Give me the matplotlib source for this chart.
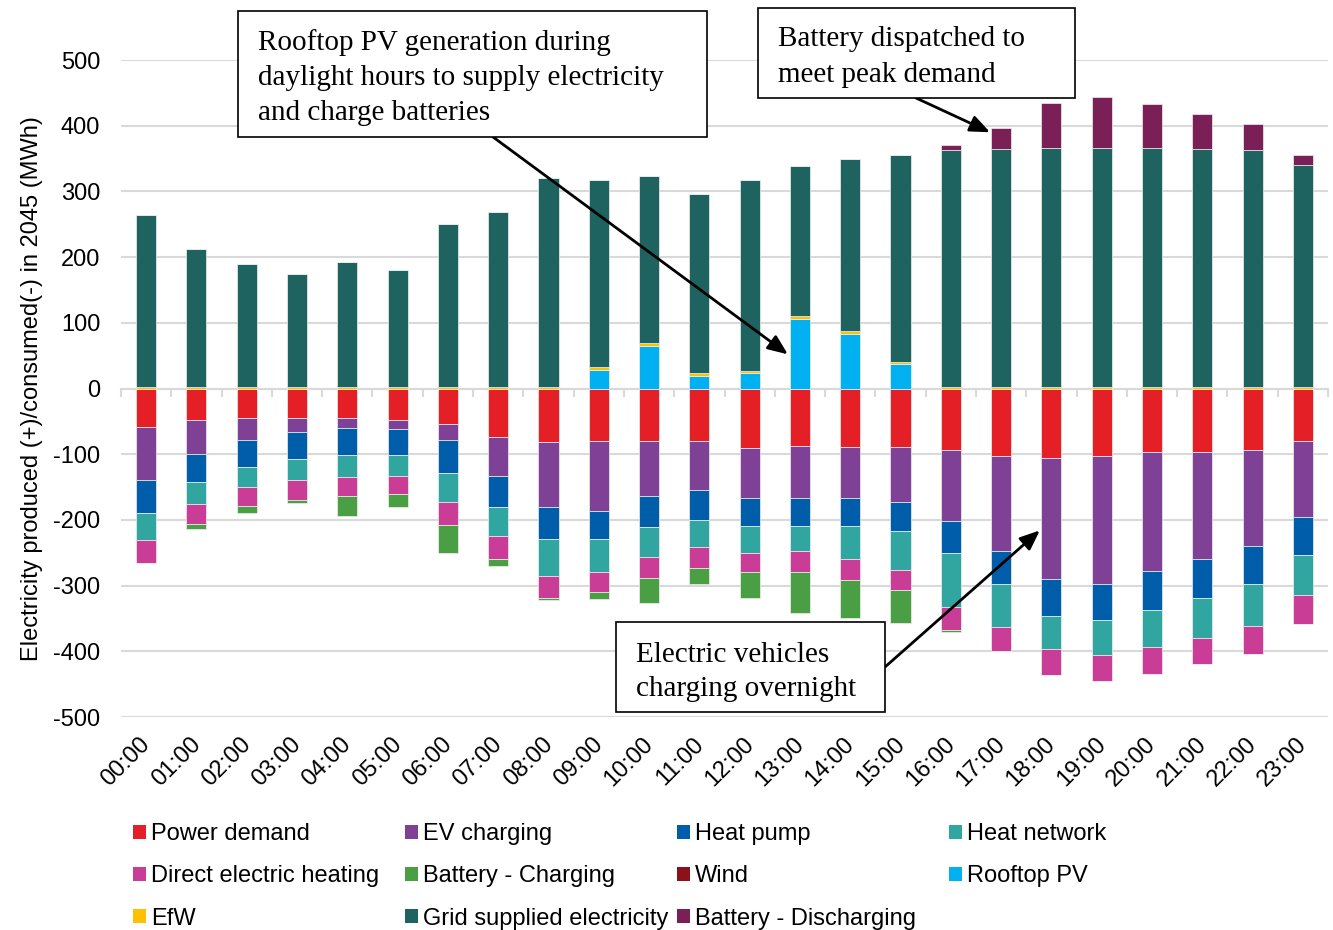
import numpy as np
import matplotlib
matplotlib.use('Agg')
import matplotlib.pyplot as plt
from matplotlib.patches import Patch, Rectangle
from matplotlib.transforms import ScaledTranslation

plt.rcParams['font.family'] = ['Liberation Sans', 'DejaVu Sans']
plt.rcParams['axes.unicode_minus'] = False

# hourly data (MWh)
hours = ['%02d:00' % h for h in range(24)]

# consumption (plotted negative)
power_demand = [58, 48, 45, 45, 45, 48, 54, 74, 82, 80, 80, 80, 90, 88, 89, 89, 94, 102, 106, 103, 96, 96, 93, 80]
ev_charging = [81, 52, 33, 21, 15, 13, 25, 59, 99, 107, 84, 75, 77, 79, 78, 84, 107, 146, 184, 195, 182, 164, 146, 116]
heat_pump = [50, 42, 41, 42, 41, 40, 49, 48, 48, 42, 47, 45, 43, 43, 43, 44, 50, 50, 57, 54, 59, 59, 59, 58]
heat_network = [41, 34, 31, 32, 33, 32, 45, 44, 56, 51, 45, 41, 40, 38, 50, 59, 82, 65, 49, 53, 56, 60, 64, 61]
direct_heating = [35, 30, 29, 29, 29, 28, 35, 34, 34, 29, 33, 32, 30, 31, 31, 31, 35, 36, 40, 40, 42, 41, 42, 43]
battery_charging = [1, 8, 11, 6, 31, 20, 43, 11, 3, 12, 37, 24, 39, 62, 59, 50, 3, 0, 0, 0, 0, 0, 0, 0]

# production (plotted positive)
wind = [0] * 24
rooftop_pv = [0, 0, 0, 0, 0, 0, 0, 0, 0, 28, 65, 19, 23, 106, 83, 37, 0, 0, 0, 0, 0, 0, 0, 0]
efw = [3, 3, 3, 3, 3, 3, 3, 3, 3, 4, 4, 4, 4, 4, 4, 4, 3, 3, 3, 3, 3, 3, 3, 3]
grid = [261, 210, 186, 171, 190, 177, 247, 265, 317, 286, 255, 273, 291, 229, 262, 314, 360, 361, 363, 363, 363, 361, 360, 337]
battery_discharging = [0] * 16 + [8, 32, 68, 77, 67, 54, 39, 15]

negative = [
    ('Power demand', power_demand, '#E41F26'),
    ('EV charging', ev_charging, '#7E4195'),
    ('Heat pump', heat_pump, '#005DAA'),
    ('Heat network', heat_network, '#31A59F'),
    ('Direct electric heating', direct_heating, '#C93D96'),
    ('Battery - Charging', battery_charging, '#4A9F45'),
]
positive = [
    ('Wind', wind, '#8B1219'),
    ('Rooftop PV', rooftop_pv, '#00B0F0'),
    ('EfW', efw, '#FFC000'),
    ('Grid supplied electricity', grid, '#1E635F'),
    ('Battery - Discharging', battery_discharging, '#7B1F57'),
]

W, H = 1333, 930
fig = plt.figure(figsize=(W / 100, H / 100), dpi=100)
ax = fig.add_axes([121 / W, 1 - 717 / H, 1207 / W, 657 / H])
ax.patch.set_visible(False)

x = np.arange(len(hours))
colors = {}
bottom = np.zeros(len(hours))
for name, vals, c in negative:
    v = -np.array(vals, dtype=float)
    ax.bar(x, v, 0.4, bottom=bottom, color=c, edgecolor='#f0f0f0', linewidth=0.5, zorder=2)
    bottom += v
    colors[name] = c
bottom = np.zeros(len(hours))
for name, vals, c in positive:
    v = np.array(vals, dtype=float)
    ax.bar(x, v, 0.4, bottom=bottom, color=c, edgecolor='#f0f0f0', linewidth=0.5, zorder=2)
    bottom += v
    colors[name] = c

ax.set_xlim(-0.5, len(hours) - 0.5)
ax.set_ylim(-500, 500)
ax.set_yticks(np.arange(-500, 501, 100))
ax.yaxis.grid(True, color='#d9d9d9', linewidth=1.5, zorder=0)
ax.set_axisbelow(True)
for s in ax.spines.values():
    s.set_visible(False)
ax.tick_params(axis='y', length=0, pad=15, labelsize=17)
ax.set_xticks(x)
ax.set_xticklabels(hours, rotation=45, ha='right', va='top', rotation_mode='anchor')
ax.tick_params(axis='x', length=0, pad=12, labelsize=17)
shift = ScaledTranslation(-7 / 100, 0, fig.dpi_scale_trans)
for lab in ax.get_xticklabels():
    lab.set_transform(lab.get_transform() + shift)
ax.set_ylabel('Electricity produced (+)/consumed(-) in 2045 (MWh)', fontsize=17, labelpad=7)

# category axis line at zero with tick marks between categories
sec = ax.secondary_xaxis(0, transform=ax.transData)
sec.set_zorder(-1)
sec.set_xticks(np.arange(-0.5, len(hours), 1))
sec.set_xticklabels([])
sec.tick_params(axis='x', length=6, width=1.5, color='#d9d9d9', direction='out')
sec.spines['bottom'].set_color('#d9d9d9')
sec.spines['bottom'].set_linewidth(1.5)

# legend, laid out row by row like the original (4 columns)
order = [['Power demand', 'Direct electric heating', 'EfW'],
         ['EV charging', 'Battery - Charging', 'Grid supplied electricity'],
         ['Heat pump', 'Wind', 'Battery - Discharging'],
         ['Heat network', 'Rooftop PV']]
col_x = [133, 405, 677, 949]
for cx, names in zip(col_x, order):
    handles = [Patch(facecolor=colors[n], edgecolor='none', label=n) for n in names]
    leg = fig.legend(handles=handles, loc='upper left', bbox_to_anchor=(cx / W, 1 - 823 / H),
                     frameon=False, fontsize=17, handlelength=0.55, handleheight=0.55,
                     handletextpad=0.2, labelspacing=0.86, borderpad=0, borderaxespad=0)


def px(px_x, px_y):
    return px_x / W, 1 - px_y / H


def callout(box, text, text_xy, start, tip):
    x0, y0, x1, y1 = box
    fig.add_artist(Rectangle(px(x0, y1), (x1 - x0) / W, (y1 - y0) / H, transform=fig.transFigure,
                             facecolor='white', edgecolor='black', linewidth=1.2, zorder=5))
    fig.text(*px(*text_xy), text, family=['Liberation Serif', 'DejaVu Serif'], fontsize=21,
             ha='left', va='center', linespacing=1.45, zorder=6)
    ax.annotate('', xy=tip, xycoords='data', xytext=px(*start), textcoords='figure fraction',
                arrowprops=dict(arrowstyle='-|>,head_length=1.2,head_width=0.5', color='black',
                                linewidth=2, shrinkA=0, shrinkB=0),
                annotation_clip=False, zorder=4)


callout((238, 11, 707, 137), 'Rooftop PV generation during\ndaylight hours to supply electricity\nand charge batteries',
        (258, 78), (493, 137), (12.76, 52))
callout((758, 8, 1075, 98), 'Battery dispatched to\nmeet peak demand',
        (778, 57), (916, 98), (16.78, 390))
callout((616, 622, 885, 712), 'Electric vehicles\ncharging overnight',
        (636, 672), (885, 667), (17.77, -216))

fig.savefig('out.png', dpi=100)
